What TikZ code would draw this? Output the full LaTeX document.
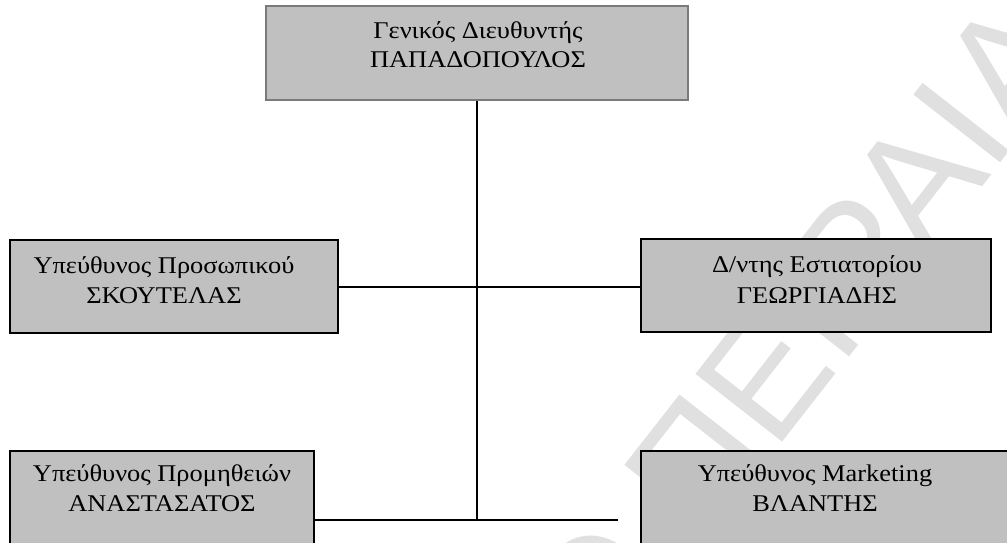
\documentclass[tikz,border=0pt]{standalone}
\usepackage{fontspec}
\setmainfont{Liberation Serif}[FakeStretch=1.1]
\newfontfamily\wmfont{Liberation Sans}
\definecolor{boxfill}{HTML}{C0C0C0}
\definecolor{wmgray}{HTML}{E0E0E0}
\definecolor{topedge}{HTML}{7A7A7A}
\tikzset{
  orgbox/.style={draw=black, line width=1.3pt, fill=boxfill, rectangle, inner sep=0pt},
  txt/.style={anchor=base, inner sep=0pt, font=\fontsize{24}{29}\selectfont},
  link/.style={draw=black, line width=1.3pt},
}
\begin{document}
\begin{tikzpicture}[x=1pt,y=-1pt]
\useasboundingbox (0,0) rectangle (1007,542);
\clip (0,0) rectangle (1007,542);
\fill[white] (0,0) rectangle (1007,542);
% watermark
\node[text=wmgray, font=\wmfont\fontsize{160}{160}\selectfont, rotate=52, anchor=base east, inner sep=0pt] (wm) at (1085,55) {ΠΑΝΕΠΙΣΤΗΜΙΟ ΠΕΙΡΑΙΑ};
% boxes
\node[orgbox, draw=topedge, minimum width=422pt, minimum height=94pt] (gd) at (477,53) {};
\node[orgbox, minimum width=328pt, minimum height=93pt] (hr) at (174,286.5) {};
\node[orgbox, minimum width=350pt, minimum height=93pt] (rest) at (816,285.5) {};
\node[orgbox, minimum width=304pt, minimum height=109pt] (proc) at (162,505.5) {};
\node[orgbox, minimum width=379pt, minimum height=109pt] (mkt) at (830.5,505.5) {};
% texts
\node[txt] (gd1) at (478,38) {Γενικός Διευθυντής};
\node[txt] (gd2) at (478,67) {ΠΑΠΑΔΟΠΟΥΛΟΣ};
\node[txt] (hr1) at (164,273) {Υπεύθυνος Προσωπικού};
\node[txt] (hr2) at (164,303) {ΣΚΟΥΤΕΛΑΣ};
\node[txt] (rest1) at (817,272) {Δ/ντης Εστιατορίου};
\node[txt] (rest2) at (817,303) {ΓΕΩΡΓΙΑΔΗΣ};
\node[txt] (proc1) at (162,481) {Υπεύθυνος Προμηθειών};
\node[txt] (proc2) at (162,511) {ΑΝΑΣΤΑΣΑΤΟΣ};
\node[txt] (mkt1) at (815,481) {Υπεύθυνος Marketing};
\node[txt] (mkt2) at (815,511) {ΒΛΑΝΤΗΣ};
% connectors
\coordinate (jb) at (gd.south |- 0,520);
\coordinate (mkend) at (618,520);
\draw[link] (gd.south) -- (jb);
\draw[link] (hr.east |- 0,287) -- (rest.west |- 0,287);
\draw[link] (proc.east |- 0,520) -- (mkend);
\end{tikzpicture}
\end{document}
